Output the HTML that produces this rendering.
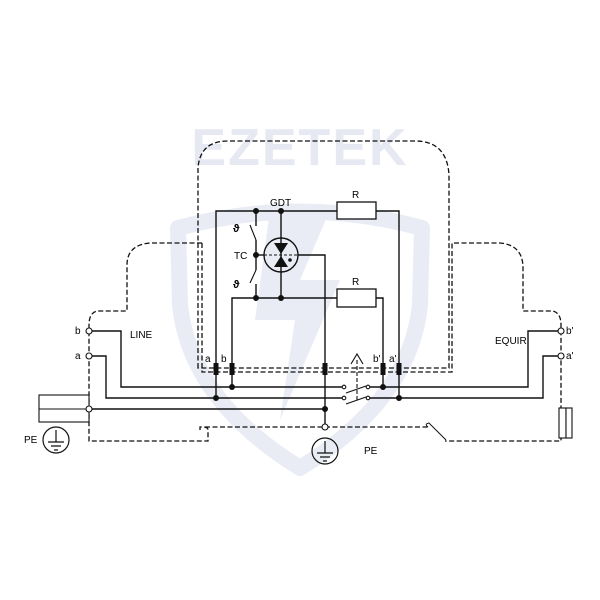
<!DOCTYPE html>
<html><head><meta charset="utf-8"><style>html,body{margin:0;padding:0;background:#fff}svg{display:block}text{font-family:"Liberation Sans",sans-serif;font-size:10px;fill:#000}</style></head>
<body>
<svg width="600" height="600" viewBox="0 0 600 600" xmlns="http://www.w3.org/2000/svg">
<!-- watermark -->
<g fill="none" stroke="#eaecf5" stroke-width="16" stroke-linejoin="round">
<path d="M178,228 Q300,195 422,228 L420,305 Q410,400 300,468 Q190,400 180,305 Z"/>
</g>
<path d="M270,210 L330,210 L300,280 L340,280 L280,420 L295,320 L255,320 Z" fill="#eaecf5"/>
<text x="300" y="165" text-anchor="middle" style="font-size:52px;font-weight:bold;fill:#e6e8f2;letter-spacing:2px">EZETEK</text>

<!-- dashed housing -->
<g fill="none" stroke="#111" stroke-width="1.3" stroke-dasharray="5,2.5">
<path d="M198,368 L198,168 Q200,141 228,141 L415,141 Q447,141 449,175 L449,368 Z"/>
<path d="M202,243 L202,372 L452,372 L452,243 L500,243 Q523,245 523,268 L523,311 L553,311 Q561,313 561,325 L561,441 L445,441"/>
<path d="M202,243 L150,243 Q127,245 127,265 L127,311 L97,311 Q89,313 89,325 L89,441 L208,441 L208,430 Q208,427 203,427 L200,427 L200,430"/>
<path d="M205,427 L428,427"/>
</g>
<path d="M428,427 Q424,424 429,423 L446,440" fill="none" stroke="#111" stroke-width="1"/>

<!-- DIN clips -->
<g fill="#fff" stroke="#111" stroke-width="1.1">
<rect x="39" y="395" width="50" height="27"/><line x1="39" y1="409" x2="89" y2="409"/>
<rect x="559" y="408" width="7" height="30"/><rect x="566" y="408" width="6" height="30"/>
</g>

<!-- wires -->
<g fill="none" stroke="#111" stroke-width="1.4">
<path d="M89,331 L121,331 L121,387 L344,387"/>
<path d="M89,356 L106,356 L106,398 L344,398"/>
<path d="M368,387 L528,387 L528,331 L561,331"/>
<path d="M368,398 L543,398 L543,356 L561,356"/>
<path d="M89,409 L325,409"/>
<path d="M216,398 L216,211 L337,211 M376,211 L399,211 L399,398"/>
<path d="M232,387 L232,298 L337,298 M376,298 L383,298 L383,387"/>
<path d="M325,427 L325,255 L298,255"/>
<path d="M256,211 L256,226 M256,240 L256,270 M256,284 L256,298"/>
<path d="M250,225 L256,240 M250,283 L256,270" stroke-width="1.1"/>
<path d="M281,211 L281,298"/>
<line x1="264" y1="255" x2="298" y2="255" stroke-dasharray="3,2" stroke-width="1"/>
<circle cx="281" cy="255" r="17" fill="none"/>
<path d="M256,255 L264,255"/>
</g>
<rect x="337" y="202" width="39" height="17" fill="#fff" stroke="#111" stroke-width="1.3"/>
<rect x="337" y="289" width="39" height="18" fill="#fff" stroke="#111" stroke-width="1.3"/>
<path d="M274,243 L288,243 L281,254 Z M274,267 L288,267 L281,256 Z" fill="#111"/>
<circle cx="290" cy="260" r="1.8" fill="#111"/>

<!-- switch -->
<g stroke="#111" stroke-width="1.1" fill="#fff">
<line x1="346" y1="393" x2="366" y2="386"/><line x1="346" y1="404" x2="366" y2="397"/>
<circle cx="344" cy="387" r="1.8"/><circle cx="368" cy="387" r="1.8"/>
<circle cx="344" cy="398" r="1.8"/><circle cx="368" cy="398" r="1.8"/>
<line x1="357" y1="360" x2="357" y2="402" stroke-dasharray="4,2" fill="none"/>
<path d="M351,364 L357,354 L363,364" fill="none"/>
</g>

<!-- dots -->
<g fill="#111">
<circle cx="256" cy="211" r="3"/><circle cx="281" cy="211" r="3"/><circle cx="256" cy="255" r="3"/>
<circle cx="256" cy="298" r="3"/><circle cx="281" cy="298" r="3"/>
<circle cx="216" cy="398" r="3"/><circle cx="232" cy="387" r="3"/>
<circle cx="383" cy="387" r="3"/><circle cx="399" cy="398" r="3"/><circle cx="325" cy="409" r="3"/>
<rect x="213.5" y="363" width="5" height="12"/><rect x="229.5" y="363" width="5" height="12"/>
<rect x="322.5" y="363" width="5" height="12"/><rect x="380.5" y="363" width="5" height="12"/><rect x="396.5" y="363" width="5" height="12"/>
</g>
<g fill="#fff" stroke="#111" stroke-width="1.1">
<circle cx="89" cy="331" r="3"/><circle cx="89" cy="356" r="3"/><circle cx="89" cy="409" r="3"/>
<circle cx="561" cy="331" r="3"/><circle cx="561" cy="356" r="3"/><circle cx="325" cy="427" r="3"/>
</g>

<!-- PE symbols -->
<g fill="none" stroke="#111" stroke-width="1.2">
<circle cx="56" cy="440" r="13"/><path d="M56,430 L56,442 M48,442 L64,442 M51,446 L61,446 M54,450 L58,450"/>
<circle cx="325" cy="451" r="13"/><path d="M325,441 L325,453 M317,453 L333,453 M320,457 L330,457 M323,461 L327,461"/>
</g>

<!-- labels -->
<text x="270" y="206">GDT</text>
<text x="352" y="198">R</text>
<text x="352" y="285">R</text>
<text x="234" y="259">TC</text>
<text x="233" y="232" style="font-size:11px;font-weight:bold">ϑ</text>
<text x="233" y="288" style="font-size:11px;font-weight:bold">ϑ</text>
<text x="205" y="362">a</text><text x="221" y="362">b</text>
<text x="373" y="362">b'</text><text x="389" y="362">a'</text>
<text x="75" y="334">b</text><text x="75" y="359">a</text>
<text x="130" y="338">LINE</text>
<text x="495" y="344">EQUIR</text>
<text x="566" y="334">b'</text><text x="566" y="359">a'</text>
<text x="24" y="443">PE</text>
<text x="364" y="454">PE</text>
</svg>
</body></html>
